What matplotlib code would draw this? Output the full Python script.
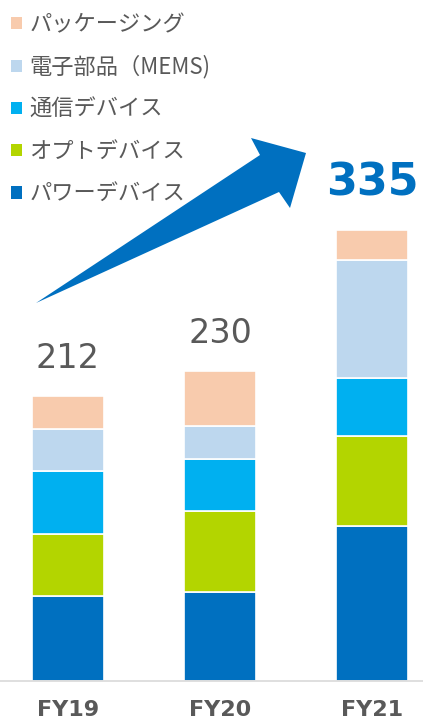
"""
Stacked revenue by segment, FY19-FY21 (recreated chart)
"""

import matplotlib.pyplot as plt
from matplotlib.patches import Polygon, Patch

# Data
years = ['FY19', 'FY20', 'FY21']
segments = ['パワーデバイス', 'オプトデバイス', '通信デバイス', '電子部品（MEMS)', 'パッケージング']
power = [63, 66, 115]
opto = [46, 60, 67]
comm = [47, 39, 43]
mems = [31, 24, 88]
packaging = [25, 41, 22]
totals = [212, 230, 335]

colors = ['#0070C0', '#B3D500', '#00B0F0', '#BDD7EE', '#F8CBAD']
GRAY = '#595959'

W, H = 423, 725
fig = plt.figure(figsize=(W / 100, H / 100), dpi=100)

# axes fills the width; baseline sits ~44px above the bottom edge
base_px = 44.3
ax = fig.add_axes([0, base_px / H, 1, 1 - base_px / H])

x = list(range(len(years)))
bottom = [0, 0, 0]
bars = []
for values, color in zip([power, opto, comm, mems, packaging], colors):
    b = ax.bar(x, values, width=0.474, bottom=bottom, color=color,
               edgecolor='white', linewidth=1.2)
    bars.append(b)
    bottom = [bt + v for bt, v in zip(bottom, values)]

ax.set_xlim(-0.447, -0.447 + W / 152)
ax.set_ylim(0, 506)

# Total labels above each bar
for i, total in enumerate(totals):
    if i == len(totals) - 1:
        ax.annotate(f'{total}', (i, total), xytext=(0, 34), textcoords='offset points',
                    ha='center', va='center', fontsize=32, fontweight='bold',
                    color='#0070C0')
    else:
        ax.annotate(f'{total}', (i, total), xytext=(0, 27), textcoords='offset points',
                    ha='center', va='center', fontsize=24, color=GRAY)

# Axes styling
for side in ['top', 'right', 'left']:
    ax.spines[side].set_visible(False)
ax.spines['bottom'].set_color('#D9D9D9')
ax.spines['bottom'].set_linewidth(1.2)
ax.set_yticks([])
ax.set_xticks(x)
ax.set_xticklabels(years, fontsize=16, fontweight='bold', color=GRAY)
ax.tick_params(axis='x', length=0, pad=14)

# Legend (reversed order, top-left)
handles = [Patch(facecolor=c) for c in colors][::-1]
leg = fig.legend(handles, segments[::-1], loc='upper left',
                 bbox_to_anchor=(11 / W, 1 - 13 / H), frameon=False,
                 prop={'family': ['Noto Sans CJK JP', 'DejaVu Sans'], 'size': 16},
                 handlelength=0.5, handleheight=0.5, handletextpad=0.33,
                 labelspacing=0.86, borderpad=0, borderaxespad=0)
for t in leg.get_texts():
    t.set_color(GRAY)

# Growth arrow (decoration, in pixel coordinates from top-left)
arrow_px = [(36, 303), (260, 155), (251, 138), (306, 153),
            (290, 208), (279, 192)]
arrow = Polygon([(px / W, 1 - py / H) for px, py in arrow_px], closed=True,
                facecolor='#0070C0', edgecolor='none', transform=fig.transFigure)
fig.patches.append(arrow)

plt.savefig('out.png', dpi=100)
plt.close()
